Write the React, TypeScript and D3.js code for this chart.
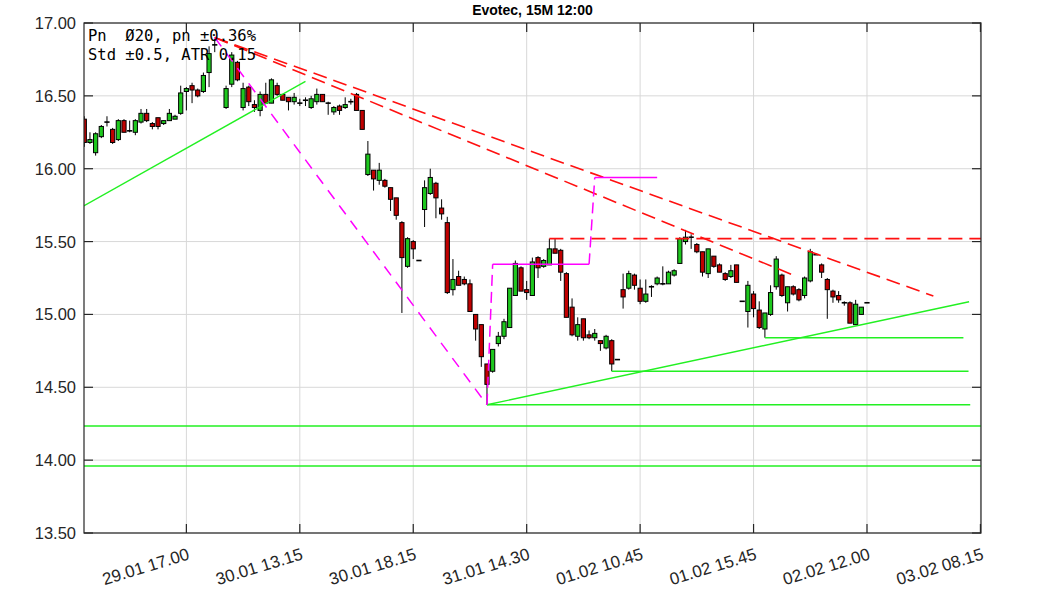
import * as d3 from "d3"

// OHLC, 15-minute bars. null = missing bar
const opens = [
  16.34, 16.18, 16.11, 16.22, 16.32, 16.27, 16.2, 16.33, 16.26, 16.25,
  16.32, 16.38, 16.31, 16.35, 16.31, 16.33, 16.34, 16.38, 16.53, 16.57,
  16.54, 16.53, 16.66, 16.84, null, 16.42, 16.58, 16.73, 16.42, 16.56,
  16.44, 16.4, 16.51, 16.45, 16.57, 16.51, 16.49, 16.46, 16.45, 16.47,
  16.42, 16.46, 16.51, 16.45, 16.39, 16.43, 16.42, 16.46, 16.51, 16.4,
  15.96, 15.99, 15.92, 15.92, 15.87, 15.8, 15.63, 15.33, 15.5, 15.37,
  15.72, 15.83, 15.9, 15.73, 15.63, 15.17, 15.26, 15.24, 15.21, 15.0,
  14.93, 14.66, 14.61, 14.8, 14.85, 14.91, 15.13, 15.32, 15.17, 15.13,
  15.39, 15.33, 15.34, 15.45, 15.44, 15.28, 15.05, 14.85, 14.97, 14.86,
  14.84, 14.82, 14.77, 14.82, 14.69, 15.17, 15.18, 15.27, 15.18, 15.09,
  15.19, 15.21, 15.21, 15.21, 15.27, 15.35, 15.5, 15.53, 15.48, 15.43,
  15.28, 15.4, 15.34, 15.28, 15.26, 15.34, 15.09, 15.02, 15.14, 15.03,
  14.9, 15.0, 15.19, 15.27, 15.08, 15.19, 15.17, 15.13, 15.23, 15.41,
  15.34, 15.24, 15.16, 15.13, 15.08, 15.08, 14.93, 15.0, 15.08,
]
const highs = [
  16.36, 16.25, 16.25, 16.3, 16.36, 16.28, 16.34, 16.34, 16.33, 16.34,
  16.41, 16.41, 16.32, 16.35, 16.33, 16.41, 16.37, 16.57, 16.56, 16.59,
  16.55, 16.66, 16.84, 16.89, null, 16.57, 16.8, 16.74, 16.59, 16.57,
  16.47, 16.53, 16.59, 16.62, 16.59, 16.51, 16.49, 16.52, 16.48, 16.49,
  16.5, 16.55, 16.51, 16.46, 16.43, 16.44, 16.49, 16.48, 16.52, 16.4,
  16.19, 15.99, 16.04, 15.93, 15.87, 15.8, 15.64, 15.53, 15.51, 15.37,
  15.92, 16.0, 15.91, 15.79, 15.67, 15.38, 15.3, 15.26, 15.24, 15.0,
  14.93, 14.66, 14.76, 14.88, 14.97, 15.18, 15.37, 15.33, 15.23, 15.39,
  15.4, 15.38, 15.52, 15.52, 15.45, 15.29, 15.11, 14.98, 14.97, 14.89,
  14.9, 14.82, 14.86, 14.83, 14.69, 15.28, 15.3, 15.28, 15.24, 15.24,
  15.2, 15.26, 15.33, 15.3, 15.31, 15.53, 15.58, 15.55, 15.49, 15.43,
  15.45, 15.4, 15.35, 15.29, 15.34, 15.34, 15.09, 15.23, 15.16, 15.09,
  15.01, 15.2, 15.4, 15.28, 15.19, 15.2, 15.18, 15.26, 15.45, 15.42,
  15.35, 15.25, 15.17, 15.16, 15.09, 15.09, 15.1, 15.05, 15.08,
]
const lows = [
  16.15, 16.17, 16.09, 16.21, 16.29, 16.17, 16.19, 16.25, 16.25, 16.23,
  16.31, 16.32, 16.27, 16.27, 16.3, 16.33, 16.34, 16.37, 16.4, 16.45,
  16.49, 16.52, 16.56, 16.8, null, 16.41, 16.56, 16.6, 16.4, 16.43,
  16.39, 16.36, 16.45, 16.45, 16.5, 16.47, 16.4, 16.44, 16.43, 16.43,
  16.41, 16.44, 16.46, 16.37, 16.37, 16.37, 16.41, 16.44, 16.4, 16.27,
  15.95, 15.85, 15.89, 15.87, 15.71, 15.65, 15.01, 15.32, 15.38, 15.37,
  15.6, 15.82, 15.66, 15.65, 15.14, 15.13, 15.2, 15.2, 15.02, 14.82,
  14.64, 14.38, 14.6, 14.78, 14.83, 14.91, 15.13, 15.16, 15.1, 15.13,
  15.25, 15.32, 15.34, 15.42, 15.23, 14.98, 14.85, 14.82, 14.82, 14.83,
  14.82, 14.75, 14.76, 14.61, 14.69, 15.04, 15.17, 15.17, 15.07, 15.08,
  15.12, 15.2, 15.2, 15.21, 15.26, 15.35, 15.48, 15.45, 15.42, 15.26,
  15.25, 15.32, 15.29, 15.23, 15.25, 15.22, 15.09, 14.91, 14.98, 14.9,
  14.84, 14.99, 15.17, 15.12, 15.02, 15.13, 15.09, 15.11, 15.22, 15.41,
  15.25, 14.97, 15.08, 15.08, 15.06, 14.94, 14.93, 15.0, 15.08,
]
const closes = [
  16.18, 16.2, 16.24, 16.29, 16.32, 16.18, 16.33, 16.25, 16.26, 16.33,
  16.38, 16.33, 16.29, 16.29, 16.33, 16.38, 16.36, 16.52, 16.55, 16.54,
  16.5, 16.64, 16.79, 16.85, null, 16.55, 16.78, 16.61, 16.55, 16.46,
  16.42, 16.51, 16.45, 16.61, 16.51, 16.47, 16.46, 16.49, 16.45, 16.46,
  16.48, 16.51, 16.46, 16.44, 16.42, 16.4, 16.44, 16.46, 16.4, 16.27,
  16.1, 15.93, 15.99, 15.88, 15.79, 15.68, 15.39, 15.52, 15.45, 15.37,
  15.87, 15.94, 15.8, 15.69, 15.15, 15.24, 15.2, 15.21, 15.02, 14.9,
  14.71, 14.52, 14.76, 14.85, 14.95, 15.18, 15.35, 15.16, 15.15, 15.36,
  15.32, 15.37, 15.45, 15.42, 15.29, 14.98, 14.86, 14.93, 14.84, 14.84,
  14.87, 14.8, 14.85, 14.66, 14.69, 15.12, 15.28, 15.2, 15.09, 15.14,
  15.19, 15.25, 15.21, 15.29, 15.3, 15.52, 15.53, 15.52, 15.43, 15.29,
  15.45, 15.33, 15.29, 15.24, 15.3, 15.22, 15.09, 15.2, 15.04, 14.91,
  15.01, 15.15, 15.38, 15.13, 15.19, 15.14, 15.1, 15.25, 15.43, 15.41,
  15.29, 15.17, 15.12, 15.1, 15.08, 14.94, 15.07, 15.05, 15.08,
]

const xTickIdx = [18, 38, 58, 78, 98, 118, 138, 158]
const xTickLabels = [
  "29.01 17.00", "30.01 13.15", "30.01 18.15", "31.01 14.30",
  "01.02 10.45", "01.02 15.45", "02.02 12.00", "03.02 08.15",
]
const yTicks = [13.5, 14, 14.5, 15, 15.5, 16, 16.5, 17]

// trend lines: [startIndex, startPrice, endIndex, endPrice]
const redDashed = [
  [23, 16.9, 149.7, 15.126],
  [23, 16.9, 125, 15.27],
  [82, 15.52, 158.2, 15.52],
]
const greenLines = [
  [-0.1, 15.745, 39, 16.6],
  [71, 14.38, 156, 15.087],
  [71, 14.38, 156.2, 14.38],
  [93, 14.61, 155.9, 14.61],
  [120, 14.84, 155, 14.84],
  [-0.1, 14.234, 158.2, 14.234],
  [-0.1, 13.96, 158.2, 13.96],
]
const magentaDiag = [23, 16.9, 71, 14.38]
// step path: index, price
const magentaStep: [number, number][] = [
  [71, 14.38], [72, 15.344], [89, 15.344], [90, 15.94], [101, 15.94],
]

const W = 1063
const H = 591
const left = 84
const right = 981
const top = 23
const bottom = 533

export default function App() {
  const x = d3.scaleLinear().domain([-0.05, 158.1]).range([left, right])
  const y = d3.scaleLinear().domain([13.5, 17]).range([bottom, top])
  const bw = 4.2
  const green = "#1ec81e"
  const red = "#c00000"

  const seg = (l: number[], key: string, stroke: string, dash?: string, sw = 1.4) => (
    <line key={key} x1={x(l[0])} y1={y(l[1])} x2={x(l[2])} y2={y(l[3])}
      stroke={stroke} strokeWidth={sw} strokeDasharray={dash} />
  )

  return (
    <svg width={W} height={H} style={{ position: "absolute", left: 0, top: 0, background: "#fff" }}
      fontFamily="'Liberation Sans', Arial, sans-serif">
      <defs>
        <clipPath id="plot">
          <rect x={left} y={top} width={right - left} height={bottom - top} />
        </clipPath>
      </defs>
      <rect width={W} height={H} fill="#fff" />

      {/* grid */}
      {yTicks.map((t) => (
        <line key={"gy" + t} x1={left} x2={right} y1={y(t)} y2={y(t)} stroke="#d8d8d8" strokeWidth={1} />
      ))}
      {xTickIdx.map((t) => (
        <line key={"gx" + t} x1={x(t)} x2={x(t)} y1={top} y2={bottom} stroke="#d8d8d8" strokeWidth={1} />
      ))}

      <g clipPath="url(#plot)">
        {/* candles */}
        {opens.map((o, i) => {
          if (o == null) return null
          const c = closes[i] as number
          const hi = highs[i] as number
          const lo = lows[i] as number
          const cx = x(i)
          const yt = y(Math.max(o, c))
          const yb = y(Math.min(o, c))
          const doji = Math.abs(yb - yt) < 1.5
          return (
            <g key={"c" + i}>
              <line x1={cx} x2={cx} y1={y(hi)} y2={y(lo)} stroke="#000" strokeWidth={1} />
              {doji ? (
                <rect x={cx - bw / 2 - 0.5} y={yt - 0.8} width={bw + 1} height={1.6} fill="#000" />
              ) : (
                <rect x={cx - bw / 2} y={yt} width={bw} height={yb - yt}
                  fill={c >= o ? green : red} stroke="#000" strokeWidth={1} />
              )}
            </g>
          )
        })}

        {redDashed.map((l, i) => seg(l, "r" + i, "#ff1010", "14,7", 1.6))}
        {greenLines.map((l, i) => seg(l, "g" + i, "#22f022", undefined, 1.4))}
        {seg(magentaDiag, "md", "#ff00ff", "11,8", 1.5)}
        {magentaStep.slice(1).map((p, k) => {
          const a = magentaStep[k]
          const flat = a[1] === p[1]
          return seg([a[0], a[1], p[0], p[1]], "ms" + k, "#ff00ff", flat ? undefined : "11,6", 1.5)
        })}
      </g>

      {/* frame */}
      <rect x={left} y={top} width={right - left} height={bottom - top} fill="none" stroke="#262626" strokeWidth={1.2} />
      {yTicks.map((t) => (
        <g key={"ty" + t}>
          <line x1={left} x2={left + 9} y1={y(t)} y2={y(t)} stroke="#262626" strokeWidth={1.2} />
          <line x1={right - 9} x2={right} y1={y(t)} y2={y(t)} stroke="#262626" strokeWidth={1.2} />
          <text x={left - 8} y={y(t)} dy="0.36em" textAnchor="end" fontSize={16.5} fill="#262626">
            {t.toFixed(2)}
          </text>
        </g>
      ))}
      {xTickIdx.map((t, k) => (
        <g key={"tx" + t}>
          <line x1={x(t)} x2={x(t)} y1={bottom} y2={bottom - 9} stroke="#262626" strokeWidth={1.2} />
          <line x1={x(t)} x2={x(t)} y1={top} y2={top + 9} stroke="#262626" strokeWidth={1.2} />
          <text transform={`translate(${x(t) + 4},${559}) rotate(-17)`} textAnchor="end"
            fontSize={17} fill="#262626">
            {xTickLabels[k]}
          </text>
        </g>
      ))}

      <text x={(left + right) / 2} y={15} textAnchor="middle" fontSize={14} fontWeight="bold" fill="#000">
        Evotec, 15M 12:00
      </text>

      <g fontFamily="'DejaVu Sans Mono', monospace" fontSize={15.5} fill="#000">
        <text x={88} y={41} style={{ whiteSpace: "pre" }}>{"Pn  Ø20, pn ±0.36%"}</text>
        <text x={88} y={60} style={{ whiteSpace: "pre" }}>{"Std ±0.5, ATR 0.15"}</text>
      </g>
    </svg>
  )
}
